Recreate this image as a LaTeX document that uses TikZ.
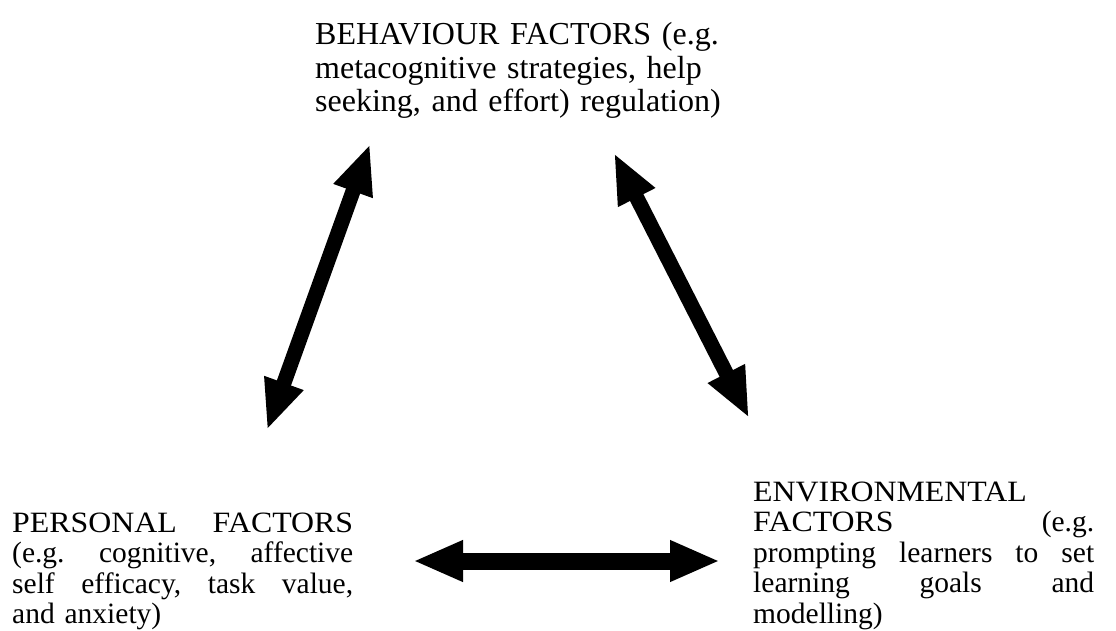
\documentclass[tikz,border=0pt]{standalone}
\usepackage{fontspec}
\setmainfont{Liberation Serif}
\newfontfamily\widecaps{Liberation Serif}[FakeStretch=1.08]
\usetikzlibrary{arrows.meta, positioning}
\newlength{\factorwd}
\setlength{\factorwd}{341pt}
\newcommand{\spreadline}[1]{\leavevmode\hbox to \factorwd{#1}}

\begin{document}
\begin{tikzpicture}[x=1pt, y=-1pt,
    factor/.style={inner sep=0pt, anchor=base west, text width=\factorwd, align=left,
      font=\fontsize{29.5}{30.5}\selectfont},
    twoway/.style={line width=15pt,
      {Triangle[length=50pt,width=38pt]}-{Triangle[length=50pt,width=38pt]}}
  ]
    \useasboundingbox (0,0) rectangle (1116,631);

    \node[factor, text width=420pt, font=\fontsize{32}{33.5}\selectfont] (behav) at (315,45)
      {BEHAVIOUR FACTORS (e.g.\\ metacognitive strategies, help\\ seeking, and effort) regulation)};
    \node[factor] (pers) at (12,532)
      {\spreadline{\widecaps PERSONAL\hfill FACTORS}\\
       \spreadline{(e.g.\hfill cognitive,\hfill affective}\\
       \spreadline{self\hfill efficacy,\hfill task\hfill value,}\\
       and anxiety)};
    \node[factor] (envir) at (753,501)
      {{\widecaps ENVIRONMENTAL}\\
       \spreadline{{\widecaps FACTORS}\hfill (e.g.}\\
       \spreadline{prompting\hfill learners\hfill to\hfill set}\\
       \spreadline{learning\hfill goals\hfill and}\\
       modelling)};

    % arrow ends
    \coordinate (bp) at (370,144);
    \coordinate (pb) at (267,430);
    \coordinate (be) at (614,153);
    \coordinate (eb) at (749,418);
    \coordinate (pe) at (413,561);
    \coordinate (ep) at (720,561);

    \draw[twoway] (pb) -- (bp);
    \draw[twoway] (be) -- (eb);
    \draw[twoway, line width=17pt] (pe) -- (ep);
\end{tikzpicture}
\end{document}
